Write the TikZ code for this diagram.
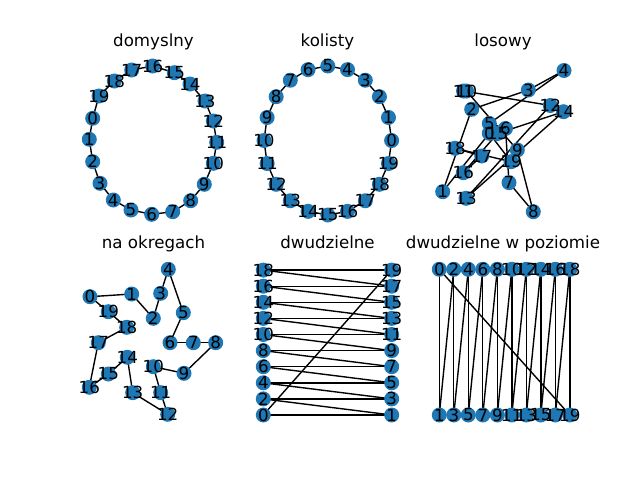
\documentclass[tikz,border=0pt]{standalone}
\usepackage{fontspec}
\setmainfont{DejaVu Sans}
\definecolor{nodeblue}{RGB}{31,119,180}
\begin{document}
\begin{tikzpicture}[x=0.72pt,y=-0.72pt,
  vert/.style={circle,fill=nodeblue,inner sep=0pt,minimum size=10.8pt},
  lbl/.style={inner sep=0pt,font=\fontsize{12}{14}\selectfont,text=black},
  edge/.style={draw=black,line width=1pt},
  ttl/.style={anchor=base,inner sep=0pt,font=\fontsize{12}{14}\selectfont}]
\useasboundingbox (0,0) rectangle (640,480);
% domyslny
\foreach \i/\x/\y in {0/92.7/118.3, 1/89.3/139.3, 2/92.7/161.7, 3/100/183.3, 4/113.3/200, 5/131/210, 6/151.7/214.3, 7/172.7/211.7, 8/190.7/200.7, 9/204.3/184.3, 10/213.3/163.3, 11/216.7/142.3, 12/213.3/121, 13/205/101, 14/190/84, 15/174.3/72.7, 16/152.7/66, 17/131.7/70, 18/114.3/81, 19/99/96}
  {\coordinate (A\i) at (\x,\y);}
% kolisty
\foreach \i in {0,...,19}
  {\coordinate (B\i) at ({327.8+63.8*cos(18*\i)},{140.5-74.5*sin(18*\i)});}
% losowy
\foreach \i/\x/\y in {0/489.3/133.3, 1/442.7/191.7, 2/471.7/109.3, 3/528.3/90, 4/564/70.5, 5/489.3/123.5, 6/505.5/128.5, 7/509/182.7, 8/533.3/211.7, 9/517.3/150, 10/466.5/91, 11/463.5/91, 12/550.3/105.5, 13/466/198.3, 14/563.5/111.7, 15/497.5/133.5, 16/463.3/172.7, 17/481.7/156, 18/455/148.3, 19/511/161.7}
  {\coordinate (C\i) at (\x,\y);}
% na okregach
\foreach \i/\x/\y in {0/90/296.7, 1/131.7/294, 2/153.3/318.3, 3/160.7/293.3, 4/168.3/269.3, 5/183.3/312.7, 6/170/342.7, 7/193.3/342.7, 8/215.7/342.7, 9/184/373.3, 10/153.3/366.7, 11/160.7/392.7, 12/167.7/414.3, 13/132.7/392.7, 14/127.3/357.3, 15/108.3/374, 16/89.3/387.3, 17/98.3/342.7, 18/126.7/327.3, 19/108.3/311.7}
  {\coordinate (D\i) at (\x,\y);}
% dwudzielne
\foreach \k in {0,...,9} {
  \pgfmathtruncatemacro\ev{2*\k}
  \pgfmathtruncatemacro\od{2*\k+1}
  \coordinate (E\ev) at (263.3,{415-16.1*\k});
  \coordinate (E\od) at (391.7,{415-16.1*\k});
  \coordinate (F\ev) at ({439.3+14.5*\k},269.3);
  \coordinate (F\od) at ({439.3+14.5*\k},415);
}
% edges
\foreach \g in {A,B,C,D,E,F} {
  \foreach \i in {0,...,19} {
    \pgfmathtruncatemacro\nx{mod(\i+1,20)}
    \draw[edge] (\g\i) -- (\g\nx);
  }
}
% nodes
\foreach \g in {A,B,C,D,E,F} {
  \foreach \i in {0,...,19} {\node[vert] (v\g\i) at (\g\i) {};}
}
% labels
\foreach \g in {A,B,C,D,E,F} {
  \foreach \i in {0,...,19} {\node[lbl] (l\g\i) at (\g\i) {\i};}
}
% titles
\node[ttl] (t1) at (153.5,46.5) {domyslny};
\node[ttl] (t2) at (327.5,46.5) {kolisty};
\node[ttl] (t3) at (503,46.5) {losowy};
\node[ttl] (t4) at (153.5,248) {na okregach};
\node[ttl] (t5) at (327.5,248) {dwudzielne};
\node[ttl] (t6) at (503,248) {dwudzielne w poziomie};
\end{tikzpicture}
\end{document}
